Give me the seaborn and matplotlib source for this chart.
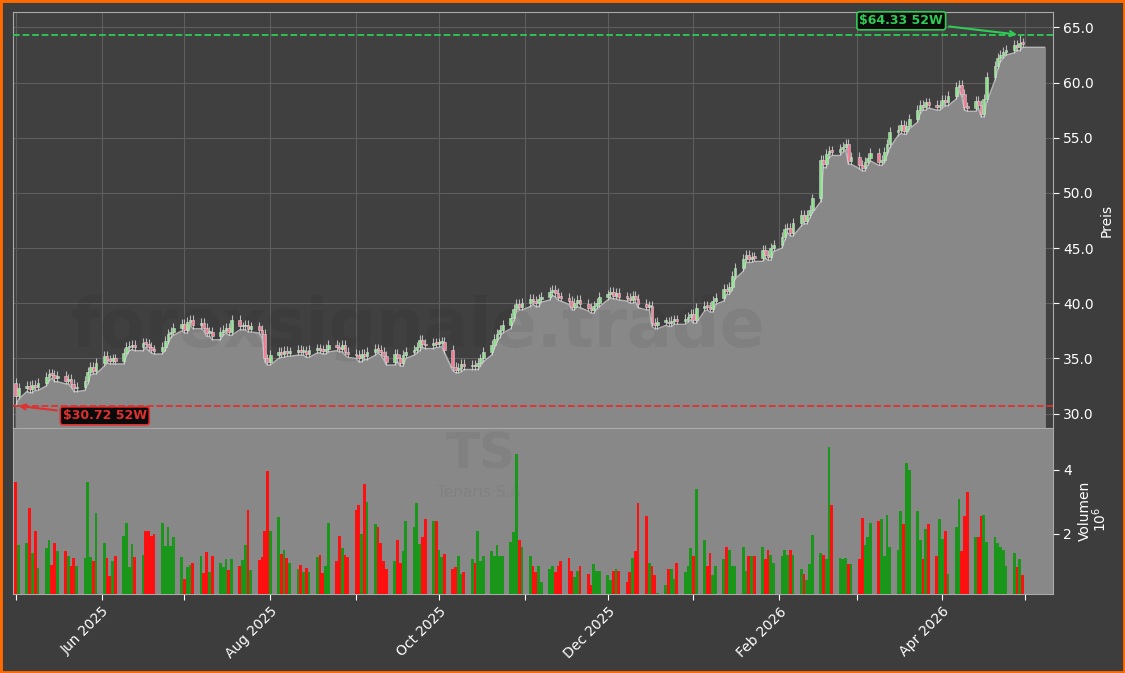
import numpy as np
import pandas as pd
import matplotlib
matplotlib.use("Agg")
import matplotlib.pyplot as plt
import matplotlib.dates as mdates
import seaborn as sns

closes = [
 31.6, 32.3,
 32.5, 32.2, 32.6, 32.4, 32.8,
 33.3, 33.6, 33.5, 33.2, 33.4,
 33.0, 33.1, 32.7, 32.3, 32.4,
 33.0, 33.8, 34.2, 33.9, 34.6,
 35.2, 34.9, 34.8, 35.0, 34.8,
 35.5, 36.0, 36.1, 36.2, 36.0,
 36.4, 36.3, 36.0, 35.8, 35.7,
 36.0, 36.6, 37.2, 37.4, 37.8,
 38.1, 37.6, 38.3, 38.5, 38.0,
 38.2, 37.8, 37.3, 37.4, 37.0,
 37.4, 37.6, 37.8, 37.4, 38.5,
 37.9, 37.9, 38.0, 37.7, 37.9,
 37.6, 37.2, 35.0, 34.7, 35.3,
 35.6, 35.4, 35.7, 35.5, 35.6,
 35.8, 35.6, 35.7, 35.4, 35.8,
 35.9, 35.8, 35.7, 35.9, 36.2,
 36.0, 35.9, 36.2, 35.6, 35.4,
 35.3, 35.0, 35.4, 35.2, 35.6,
 35.9, 35.8, 35.6, 35.2, 34.7,
 35.4, 35.0, 34.6, 35.3, 35.6,
 35.8, 36.0, 36.7, 36.3, 36.2,
 36.4, 36.3, 36.4, 36.5, 35.8,
 34.2, 34.0, 34.1, 34.5, 34.3,
 34.4, 34.3, 34.6, 35.0, 35.6,
 36.2, 36.8, 37.2, 37.6, 38.0,
 38.7, 39.5, 39.9, 39.7, 40.0,
 40.4, 40.2, 40.0, 40.4, 40.6,
 41.0, 41.2, 40.9, 40.6, 40.5,
 40.2, 39.7, 40.0, 40.3, 39.9,
 39.6, 39.4, 39.8, 40.0, 40.6,
 40.8, 41.0, 40.7, 40.9, 40.6,
 40.5, 40.3, 40.7, 40.4, 39.9,
 39.7, 39.8, 38.2, 38.0, 38.3,
 38.3, 38.2, 38.4, 38.5, 38.4,
 38.6, 38.8, 39.0, 38.5, 39.6,
 39.8, 39.7, 39.5, 40.2, 40.5,
 41.3, 41.1, 41.5, 42.5, 43.2,
 44.0, 44.4, 44.0, 44.2, 44.1,
 44.8, 44.4, 44.2, 45.0, 45.3,
 46.0, 46.7, 46.8, 46.4, 47.3,
 48.0, 47.5, 48.0, 48.5, 49.5,
 53.0, 52.6, 53.5, 53.8, 53.7,
 54.0, 54.2, 54.4, 52.9, 53.3,
 52.5, 52.3, 52.8, 53.2, 53.6,
 52.8, 53.0, 53.7, 54.4, 55.5,
 55.7, 56.2, 55.6, 56.1, 56.7,
 57.5, 58.0, 57.8, 58.2, 58.0,
 57.8, 58.0, 58.4, 58.2, 58.8,
 59.6, 59.8, 59.0, 57.8, 57.7,
 58.3, 58.0, 57.2, 58.5, 60.5,
 61.5, 62.2, 62.5, 62.8, 63.0,
 63.4, 63.2, 63.6, 63.5,
]

# volume (millions), May 2025 - Aug 2025
volumes_a = [
 3.6, 1.66, 1.7, 2.8, 1.4, 2.1, 0.93, 1.55, 1.8, 1.03,
 1.7, 1.45, 1.45, 1.3, 1.0, 1.24, 1.0, 1.24, 3.6, 1.28,
 1.15, 2.64, 1.7, 1.24, 0.69, 1.15, 1.3, 1.92, 2.33, 0.95,
 1.69, 1.28, 1.34, 2.1, 2.1, 1.94, 2.0, 2.33, 1.63, 2.2,
 1.63, 1.9, 1.28, 0.6, 0.95, 1.03, 1.1, 1.3, 0.77, 1.43,
 0.81, 1.3, 1.1, 0.95, 1.2, 0.87, 1.22, 1.0, 1.17, 1.66,
 2.75, 0.87, 1.17, 1.28, 2.1, 3.95, 2.1, 2.52, 1.37, 1.48,
 1.25, 1.1, 0.9, 1.03, 0.81, 0.93, 0.82, 1.28, 1.34, 0.77,
 1.0, 2.33, 1.15, 1.92, 1.55, 1.34, 1.27, 2.75, 2.9,
]
# Sep 2025 - Dec 2025
volumes_b = [
 2.0, 3.55, 3.0, 2.3, 2.2, 1.7, 1.15, 0.9, 1.15, 1.8,
 1.1, 1.45, 2.4, 2.2, 2.95, 1.67, 1.9, 2.47, 2.4, 2.4,
 1.5, 1.26, 1.37, 0.9, 0.95, 1.3, 0.75, 0.8, 1.2, 1.1,
 2.1, 1.15, 1.3, 1.45, 1.3, 1.65, 1.3, 1.3, 1.75, 2.05,
 4.5, 1.8, 1.6, 1.3, 1.0, 0.82, 1.0, 0.5, 0.9, 1.0,
 0.8, 1.0, 1.15, 1.25, 0.85, 0.65, 0.85, 1.0, 0.75, 0.4,
 1.05, 0.85, 0.85, 0.7, 0.55, 0.85, 0.9, 0.85, 0.5, 0.8,
 1.25, 1.45, 2.95, 2.55, 1.1, 1.0, 0.7, 0.15, 0.4, 0.9,
 0.9, 0.6, 1.1, 0.8, 1.0, 1.55, 1.3,
]
# Jan 2026 - Apr 2026
volumes_c = [
 3.4, 1.8, 1.0, 1.4, 0.7, 1.0, 1.2, 1.6, 1.5, 1.0,
 1.0, 1.6, 0.85, 1.3, 1.3, 1.3, 1.6, 1.2, 1.5, 1.35,
 1.1, 1.3, 1.5, 1.35, 1.5, 1.35, 0.9, 0.75, 0.55, 1.05,
 1.95, 1.4, 1.35, 1.2, 4.7, 2.9, 1.25, 1.2, 1.25, 1.05,
 1.05, 1.2, 2.5, 1.65, 1.9, 2.35, 2.4, 2.45, 1.3, 2.6,
 1.6, 1.5, 2.7, 2.3, 4.2, 4.0, 2.7, 1.8, 1.2, 2.15,
 2.3, 1.3, 2.45, 1.85, 2.1, 0.75, 2.2, 3.1, 1.45, 2.55,
 3.3, 1.9, 1.9, 2.55, 2.6, 1.75, 1.9, 1.7, 1.6, 1.5,
 1.0, 1.4, 0.95, 1.2, 0.7,
]
volumes = volumes_a + volumes_b + volumes_c

low_52w = 30.72
high_52w = 64.33

dates = pd.bdate_range("2025-05-01", "2026-04-30")
n = min(len(dates), len(closes), len(volumes))
dates = dates[:n]
c = np.array(closes[:n])
v = np.array(volumes[:n])
o = np.concatenate([[32.8], c[:-1]])
hi = np.maximum(o, c) + 0.45
lo = np.minimum(o, c) - 0.3
lo[0] = low_52w
hi[np.argmax(hi)] = high_52w

df = pd.DataFrame({"date": dates, "open": o, "close": c, "high": hi, "low": lo, "vol": v})

sns.set_style("darkgrid")
plt.rcParams['font.family'] = ['DejaVu Sans']

BG = "#3d3d3d"
fig = plt.figure(figsize=(11.25, 6.73), dpi=100, facecolor=BG)
fig.patches.append(plt.Rectangle((0, 0), 1, 1, transform=fig.transFigure,
                                 fill=False, edgecolor="#ff6a00", lw=3.5, zorder=10))
L, R = 13/1125, 1053/1125
ax = fig.add_axes([L, 1-428/673, R-L, (428-12)/673])
axv = fig.add_axes([L, 1-594/673, R-L, (594-428)/673], sharex=ax)

ymin, ymax = 28.7, 66.4
ax.set_facecolor("#404040")
ax.grid(True, color="#5e5e5e", lw=0.8)
ax.set_ylim(ymin, ymax)
ext_dates = list(df["date"]) + [pd.Timestamp("2026-05-08")]
ext_low = list(df["low"]) + [df["low"].iloc[-1]]
ax.fill_between(ext_dates, ext_low, ymin, color="#888888", zorder=1)
sns.lineplot(x=ext_dates, y=ext_low, ax=ax, color="#b5b5b5", lw=1.0, zorder=2)

up = df["close"] >= df["open"]
for m, col in [(up, "#90ee90"), (~up, "#ff7f9a")]:
    d = df[m]
    ax.vlines(d["date"], d["low"], d["high"], color="#d8d8d8", lw=0.8, alpha=0.8, zorder=3)
    ax.bar(d["date"], (d["close"]-d["open"]).abs().clip(lower=0.15),
           bottom=np.minimum(d["open"], d["close"]), width=1.0,
           color=col, edgecolor="#dddddd", lw=0.4, alpha=0.9, zorder=4)

ax.axhline(high_52w, color="#2ecc55", ls="--", lw=1.3, zorder=5)
ax.axhline(low_52w, color="#e03030", ls="--", lw=1.3, zorder=5)
ax.annotate(f"${high_52w:.2f} 52W", xy=(pd.Timestamp("2026-04-29"), high_52w),
            xytext=(pd.Timestamp("2026-03-02"), 65.6), color="#2ecc55",
            fontsize=9, fontweight="bold", va="center", zorder=8,
            bbox=dict(boxstyle="round,pad=0.2", fc="#0a0a0a", ec="#2ecc55", lw=1.2),
            arrowprops=dict(arrowstyle="->", color="#2ecc55", lw=1.5))
ax.annotate(f"${low_52w:.2f} 52W", xy=(pd.Timestamp("2025-05-01"), low_52w),
            xytext=(pd.Timestamp("2025-05-18"), 29.8), color="#e03030",
            fontsize=9, fontweight="bold", va="center", zorder=8,
            bbox=dict(boxstyle="round,pad=0.2", fc="#0a0a0a", ec="#e03030", lw=1.2),
            arrowprops=dict(arrowstyle="->", color="#e03030", lw=1.5))
ax.text(0.39, 0.24, "forexsignale.trade", transform=ax.transAxes, ha="center", va="center",
        fontsize=48, fontweight="bold", color="#000000", alpha=0.06, zorder=2)

ax.yaxis.tick_right()
ax.yaxis.set_label_position("right")
ax.set_yticks(np.arange(30, 66, 5))
ax.yaxis.set_major_formatter(matplotlib.ticker.FormatStrFormatter("%.1f"))
ax.set_ylabel("Preis", color="white", fontsize=10)
ax.tick_params(axis="y", colors="white", labelsize=10, length=4, right=True)
ax.tick_params(axis="x", labelbottom=False, length=0)
for s in ax.spines.values():
    s.set_visible(True); s.set_color("#aaaaaa"); s.set_linewidth(0.8)

axv.set_facecolor("#888888")
axv.grid(False)
vcols = np.where(up, "#1a961a", "#ff1010")
axv.bar(df["date"], df["vol"], width=1.0, color=vcols, lw=0, zorder=3)
axv.set_ylim(0.12, 5.3)
axv.set_yticks([2, 4])
axv.yaxis.tick_right()
axv.yaxis.set_label_position("right")
axv.set_ylabel("Volumen", color="white", fontsize=10)
axv.text(1.045, 0.45, "$10^6$", transform=axv.transAxes, rotation=90, color="white",
         fontsize=10, va="center", ha="center")
axv.tick_params(axis="y", colors="white", labelsize=10, length=4, right=True)
axv.text(0.45, 0.84, "TS", transform=axv.transAxes, ha="center", va="center",
         fontsize=36, fontweight="bold", color="#000000", alpha=0.05, zorder=2)
axv.text(0.45, 0.61, "Tenaris S.A.", transform=axv.transAxes, ha="center", va="center",
         fontsize=11, color="#000000", alpha=0.05, zorder=2)
for s in axv.spines.values():
    s.set_visible(True); s.set_color("#aaaaaa"); s.set_linewidth(0.8)

axv.set_xlim(pd.Timestamp("2025-04-30"), pd.Timestamp("2026-05-11"))
axv.xaxis.set_major_locator(mdates.MonthLocator())
axv.xaxis.set_major_formatter(matplotlib.ticker.FuncFormatter(
    lambda x, p: mdates.num2date(x).strftime("%b %Y") if mdates.num2date(x).month % 2 == 0 else ""))
axv.tick_params(axis="x", colors="white", labelsize=10, length=4, bottom=True)
plt.setp(axv.get_xticklabels(), rotation=45, ha="right", rotation_mode="anchor")
ax.xaxis.set_major_locator(mdates.MonthLocator())
axv.set_xlabel("")

fig.savefig("out.png", dpi=100, facecolor=BG)
